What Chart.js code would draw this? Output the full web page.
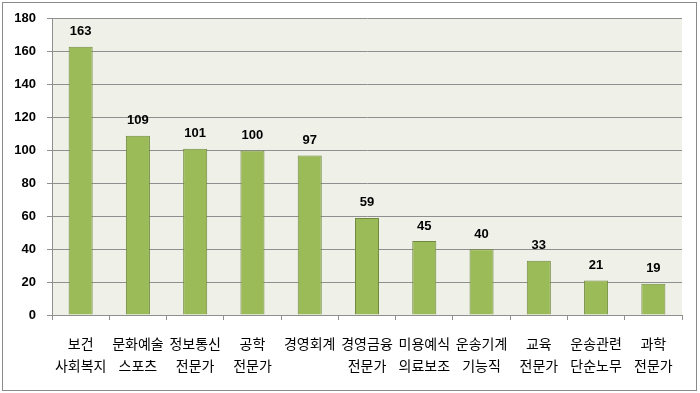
<!DOCTYPE html>
<html>
<head>
<meta charset="utf-8">
<script src="https://cdn.jsdelivr.net/npm/chart.js@4.4.1/dist/chart.umd.min.js"></script>
<style>
  body { margin: 0; background: #fff; }
  #wrap { position: relative; width: 700px; height: 393px; }
  #frame { position: absolute; left: 2px; top: 2px; width: 693px; height: 387px; border: 1px solid #8a8a8a; pointer-events: none; }
</style>
</head>
<body>
<div id="wrap">
  <canvas id="myChart" width="700" height="393"></canvas>
  <div id="frame"></div>
</div>
<script>
// categories (two lines each) and counts
const categories = [
  ['보건', '사회복지'],
  ['문화예술', '스포츠'],
  ['정보통신', '전문가'],
  ['공학', '전문가'],
  ['경영회계', ''],
  ['경영금융', '전문가'],
  ['미용예식', '의료보조'],
  ['운송기계', '기능직'],
  ['교육', '전문가'],
  ['운송관련', '단순노무'],
  ['과학', '전문가']
];
const counts = [163, 109, 101, 100, 97, 59, 45, 40, 33, 21, 19];
const yTicks = [0, 20, 40, 60, 80, 100, 120, 140, 160, 180];

const plotBg = {
  id: 'plotBg',
  beforeDraw(chart) {
    const a = chart.chartArea;
    const c = chart.ctx;
    c.save();
    c.fillStyle = '#eff1e9';
    c.fillRect(a.left, a.top, a.right - a.left, a.bottom - a.top);
    c.restore();
  }
};

// numbers above the bars
const valueLabels = {
  id: 'valueLabels',
  afterDatasetsDraw(chart) {
    const c = chart.ctx;
    const meta = chart.getDatasetMeta(0);
    c.save();
    c.font = 'bold 13px "Liberation Sans", Arial, sans-serif';
    c.fillStyle = '#000';
    c.textAlign = 'center';
    c.textBaseline = 'middle';
    meta.data.forEach((bar, i) => {
      c.fillText(String(counts[i]), bar.x, bar.y - 15);
    });
    c.restore();
  }
};

const ctx = document.getElementById('myChart');

new Chart(ctx, {
  type: 'bar',
  data: {
    labels: categories,
    datasets: [{
      data: counts,
      backgroundColor: '#9bbb59',
      borderColor: '#71893f',
      borderWidth: 1,
      barPercentage: 0.42,
      categoryPercentage: 1
    }]
  },
  options: {
    responsive: false,
    animation: false,
    layout: {
      padding: { top: 16, right: 18, bottom: 0, left: 0 }
    },
    plugins: {
      legend: { display: false },
      tooltip: { enabled: false }
    },
    scales: {
      x: {
        afterFit(scale) { scale.height = 78; },
        border: { display: true, color: '#8f8f8f', width: 1 },
        grid: {
          offset: true,
          drawOnChartArea: false,
          drawTicks: true,
          tickLength: 5,
          color: '#8f8f8f'
        },
        ticks: {
          color: '#000',
          padding: 12,
          maxRotation: 0,
          autoSkip: false,
          font: { family: '"Noto Sans CJK KR", sans-serif', size: 14, lineHeight: 1.6 }
        }
      },
      y: {
        min: 0,
        max: 180,
        afterFit(scale) { scale.width = 52; },
        afterBuildTicks(scale) { scale.ticks = yTicks.map(v => ({ value: v })); },
        border: { display: true, color: '#8f8f8f', width: 1 },
        grid: {
          color: '#8f8f8f',
          tickLength: 5
        },
        ticks: {
          color: '#000',
          padding: 11,
          font: { family: '"Liberation Sans", Arial, sans-serif', size: 13, weight: 'bold' }
        }
      }
    }
  },
  plugins: [plotBg, valueLabels]
});
</script>
</body>
</html>
